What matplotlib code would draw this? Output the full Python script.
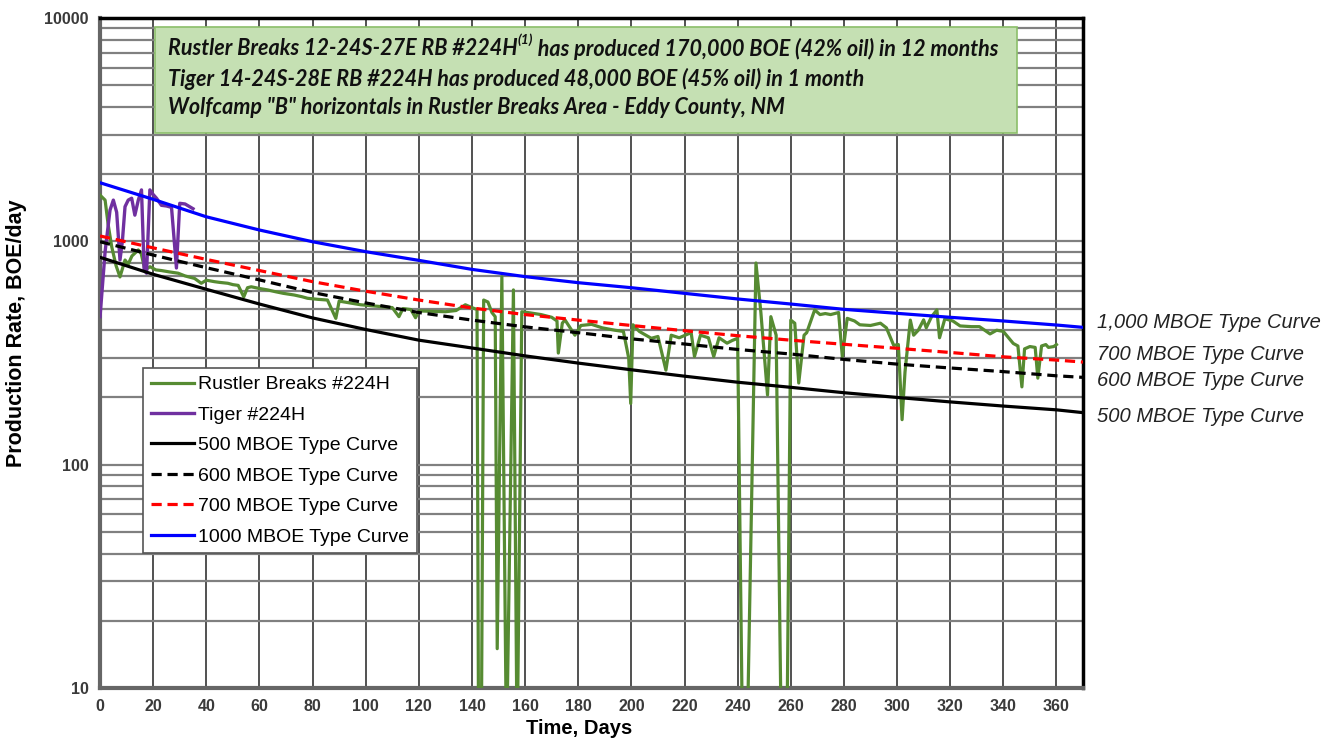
import matplotlib
matplotlib.use("Agg")
from matplotlib import pyplot as plt
from matplotlib.patches import Rectangle
from matplotlib.ticker import FixedLocator, LogLocator, NullFormatter

# ---- data ----
type_days = [0, 20, 40, 60, 80, 100, 120, 140, 160, 180, 200, 220, 240,
             260, 280, 300, 320, 340, 360, 370]
tc_1000 = [1830, 1542, 1288, 1124, 996, 899, 822, 749, 695, 653, 620, 585, 552,
           524, 496, 476, 457, 440, 422, 412]
tc_700 = [1057, 935, 830, 740, 660, 598, 546, 503, 470, 444, 420, 398, 378,
          361, 346, 332, 318, 304, 294, 288]
tc_600 = [996, 868, 762, 672, 590, 530, 480, 444, 414, 390, 366, 347, 328,
          313, 296, 282, 271, 261, 250, 246]
tc_500 = [848, 712, 610, 524, 454, 403, 361, 333, 307, 285, 266, 249, 234,
          222, 210, 200, 191, 183, 176, 171]

rustler_days = [0, 1.9, 3, 4.4, 6, 7.5, 9.4, 10.6, 12, 14.4, 15.5, 16.9, 18.8,
                21, 23.1, 26, 29.4, 32, 35.6, 38.1, 40, 43, 45, 48.1, 50, 52,
                54.1, 55.5, 56.9, 60, 63.1, 66, 69, 73.1, 76, 78.1, 82, 85.6,
                88.75, 90, 94, 98.1, 102, 106, 110, 112.5, 114, 117, 118.75,
                120, 125, 130, 134, 137.5, 140, 141.9, 142.5, 143.5, 144.4,
                146, 147.5, 148.75, 149.5, 151.25, 153, 155.6, 157, 158.75,
                162, 166, 170, 172, 172.5, 174, 175, 178.75, 181, 185, 189,
                193.75, 197, 199, 199.75, 200.6, 203, 207.5, 210, 213, 215,
                218, 222.5, 223.75, 226, 229, 231, 233, 236, 238, 240, 241.9,
                243.5, 246.9, 248.75, 251.25, 252.5, 254.5, 256.5, 258.5, 260,
                261.5, 263, 265, 266, 269, 271, 273, 275, 278, 279.4, 281.25,
                284, 286, 290, 293.75, 296, 298.75, 300.5, 301.9, 303, 305,
                306.25, 308, 310, 311, 313, 315, 316, 318, 321, 323.75, 328,
                331, 333, 335, 337.5, 340, 343.75, 345.5, 347, 348, 350, 352,
                353, 354.4, 356, 357, 359, 360]
rustler_rate = [1610, 1530, 1200, 945, 780, 693, 825, 790, 860, 915, 880, 744,
                770, 745, 740, 730, 720, 700, 682, 649, 670, 660, 655, 649, 640,
                635, 564, 620, 626, 615, 606, 595, 585, 575, 565, 556, 550, 546,
                452, 540, 530, 520, 515, 510, 505, 460, 500, 495, 455, 488, 486,
                484, 490, 520, 505, 495, 5, 5, 546, 535, 480, 460, 15, 694, 5,
                606, 5, 484, 478, 470, 457, 440, 316, 430, 445, 380, 420, 425,
                410, 400, 395, 300, 188, 423, 395, 368, 375, 265, 380, 370, 390,
                305, 380, 370, 305, 370, 350, 360, 368, 5, 5, 800, 480, 205, 460,
                380, 5, 5, 444, 430, 232, 380, 390, 493, 470, 475, 470, 480, 305,
                452, 440, 423, 420, 430, 410, 342, 345, 159, 260, 444, 380, 400,
                445, 410, 460, 493, 370, 450, 440, 418, 415, 415, 400, 385, 400,
                395, 349, 340, 223, 330, 338, 335, 244, 340, 345, 335, 338, 345]

tiger_days = [0, 1.9, 3.75, 5, 6.25, 7.5, 8.4, 9.4, 10.6, 11.9, 13.1, 14.4,
              15.6, 16.6, 17.5, 18.75, 20, 21.25, 23.1, 25, 26.9, 28.75, 30,
              32, 35]
tiger_rate = [460, 900, 1380, 1530, 1350, 825, 1000, 1430, 1530, 1560, 1310,
              1530, 1700, 744, 720, 1700, 1620, 1560, 1450, 1440, 1420, 760,
              1480, 1470, 1400]

x_ticks = list(range(0, 361, 20))
y_ticks = [10, 100, 1000, 10000]

box_lines = ['Tiger 14-24S-28E RB #224H has produced 48,000 BOE (45% oil) in 1 month',
             'Wolfcamp "B" horizontals in Rustler Breaks Area - Eddy County, NM']
right_labels = [("1,000 MBOE Type Curve", 435), ("700 MBOE Type Curve", 310),
                ("600 MBOE Type Curve", 237), ("500 MBOE Type Curve", 165)]

plt.rcParams['font.family'] = ['Liberation Sans', 'DejaVu Sans']

fig = plt.figure(figsize=(13.43, 7.42), dpi=100)
ax = fig.add_axes([0.0745, 0.0728, 0.7319, 0.9029])

green = '#568b32'
ax.plot(rustler_days, rustler_rate, color=green, lw=2.3, label='Rustler Breaks #224H', zorder=4)
ax.plot(tiger_days, tiger_rate, color='#7030a0', lw=2.4, label='Tiger #224H', zorder=4)
ax.plot(type_days, tc_500, color='black', lw=2.3, label='500 MBOE Type Curve', zorder=5)
ax.plot(type_days, tc_600, color='black', lw=2.3, ls=(0, (3.2, 1.8)), label='600 MBOE Type Curve', zorder=5)
ax.plot(type_days, tc_700, color='#ff0000', lw=2.3, ls=(0, (3.2, 1.8)), label='700 MBOE Type Curve', zorder=5)
ax.plot(type_days, tc_1000, color='#0000ff', lw=2.3, label='1000 MBOE Type Curve', zorder=5)

ax.set_yscale('log')
ax.set_xlim(0, 370)
ax.set_ylim(10, 10000)

ax.xaxis.set_major_locator(FixedLocator(x_ticks))
ax.set_xticklabels([str(t) for t in x_ticks])
ax.yaxis.set_major_locator(FixedLocator(y_ticks))
ax.set_yticklabels([str(t) for t in y_ticks])
ax.yaxis.set_minor_locator(LogLocator(base=10, subs=range(2, 10)))
ax.yaxis.set_minor_formatter(NullFormatter())
ax.tick_params(axis='both', which='both', length=0, pad=8)
for lab in ax.get_xticklabels() + ax.get_yticklabels():
    lab.set_fontsize(11.5)
    lab.set_fontweight('bold')
    lab.set_color('#3a3a3a')

ax.grid(True, axis='x', which='major', color='#222222', lw=1.1, zorder=1)
ax.grid(True, axis='y', which='both', color='#808080', lw=1.6, zorder=1)
ax.set_axisbelow(True)

for side in ['left', 'bottom']:
    ax.spines[side].set_color('#666666')
    ax.spines[side].set_linewidth(3)
for side in ['top', 'right']:
    ax.spines[side].set_color('black')
    ax.spines[side].set_linewidth(2.5)

ax.set_xlabel('Time, Days', fontsize=14.5, fontweight='bold')
ax.set_ylabel('Production Rate, BOE/day', fontsize=15.5, fontweight='bold')
ax.xaxis.set_label_coords(0.487, -0.046)
ax.yaxis.set_label_coords(-0.074, 0.530)

leg = ax.legend(loc='upper left', bbox_to_anchor=(0.0437, 0.4776), borderaxespad=0,
                fontsize=14, frameon=True, fancybox=False, framealpha=1,
                edgecolor='#555555', labelspacing=0.66, handlelength=2.2,
                handletextpad=0.25, borderpad=0.4)
leg.get_frame().set_linewidth(1.2)
leg.set_zorder(10)

# annotation box at the top
box = Rectangle((0.056, 0.8284), 0.877, 0.1582, transform=ax.transAxes,
                facecolor='#c5e0b3', edgecolor='#8cbf6a', lw=1.2, zorder=8)
ax.add_patch(box)
box_font = dict(fontsize=15.5, fontweight='bold', style='italic', family=['Lato', 'DejaVu Sans'],
                transform=ax.transAxes, va='center', ha='left', zorder=9, color='#111111')
t1 = ax.text(0.069, 0.954, 'Rustler Breaks 12-24S-27E RB #224H', **box_font)
fig.canvas.draw()
r = fig.canvas.get_renderer()
bb = t1.get_window_extent(r).transformed(ax.transAxes.inverted())
sup_font = dict(box_font)
sup_font['fontsize'] = 10
t2 = ax.text(bb.x1, 0.967, '(1)', **sup_font)
bb2 = t2.get_window_extent(r).transformed(ax.transAxes.inverted())
ax.text(bb2.x1, 0.954, ' has produced 170,000 BOE (42% oil) in 12 months', **box_font)
ax.text(0.069, 0.909, box_lines[0], **box_font)
ax.text(0.069, 0.867, box_lines[1], **box_font)

for txt, yv in right_labels:
    ax.annotate(txt, xy=(1.014, yv), xycoords=('axes fraction', 'data'),
                fontsize=14.5, style='italic', color='#222222', va='center', ha='left',
                annotation_clip=False)

fig.savefig('out.png', dpi=100)
